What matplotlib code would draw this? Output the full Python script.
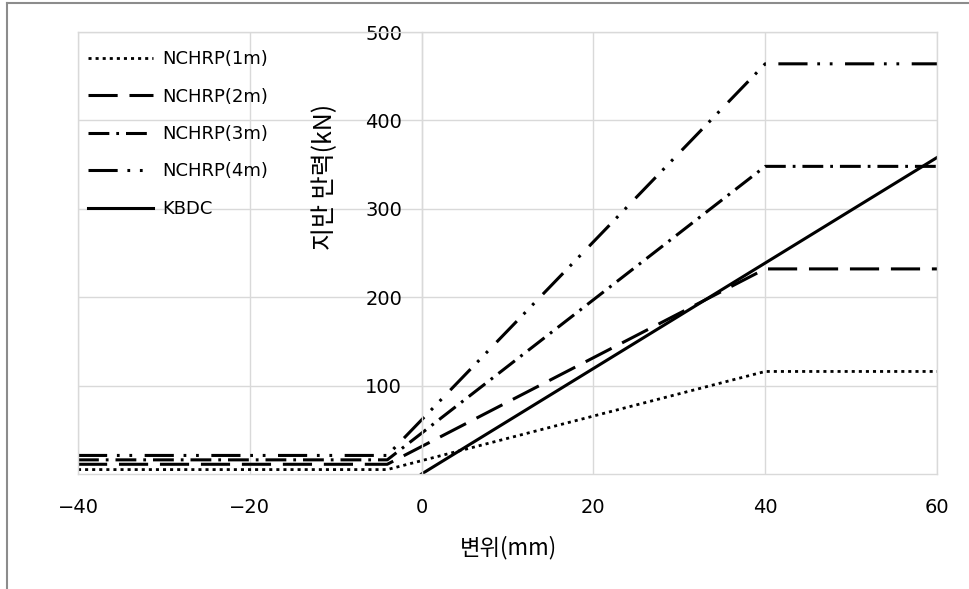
import matplotlib.pyplot as plt
from matplotlib.lines import Line2D

plt.rcParams['font.family'] = ['DejaVu Sans', 'Noto Sans CJK KR']
plt.rcParams['lines.scale_dashes'] = False

# ----------------------------------------------------------------------
# Data
# ----------------------------------------------------------------------
nchrp_x = [-40, -4, 40, 60]
nchrp_1m = [5, 5, 116, 116]
nchrp_2m = [11, 11, 232, 232]
nchrp_3m = [16, 16, 348, 348]
nchrp_4m = [21, 21, 464, 464]

kbdc_x = [0, 60]
kbdc_y = [0, 358]

labels = ["NCHRP(1m)", "NCHRP(2m)", "NCHRP(3m)", "NCHRP(4m)", "KBDC"]

# ----------------------------------------------------------------------
# Plot
# ----------------------------------------------------------------------
W, H = 969, 589
fig = plt.figure(figsize=(W / 100, H / 100), dpi=100)
ax = fig.add_axes([78 / W, 1 - 474 / H, (937 - 78) / W, (474 - 32) / H])

grid_c = "#d9d9d9"
lw = 2.2

ax.plot(nchrp_x, nchrp_1m, color="black", lw=2.0,
        linestyle=(0, (2.2, 2.9)), dash_capstyle="butt", label=labels[0])
ax.plot(nchrp_x, nchrp_2m, color="black", lw=lw,
        linestyle=(0, (21, 8.5)), label=labels[1])
ax.plot(nchrp_x, nchrp_3m, color="black", lw=lw,
        linestyle=(0, (15, 5, 2, 5)), label=labels[2])
ax.plot(nchrp_x, nchrp_4m, color="black", lw=lw,
        linestyle=(0, (21, 7, 2, 7, 2, 9)), label=labels[3])
ax.plot(kbdc_x, kbdc_y, color="black", lw=lw, linestyle="-", label=labels[4])

ax.set_xlim(-40, 60)
ax.set_ylim(0, 500)
ax.set_xticks([-40, -20, 0, 20, 40, 60])
ax.set_yticks([100, 200, 300, 400, 500])

ax.grid(True, color=grid_c, lw=1.0)
ax.axvline(-40, color=grid_c, lw=1.0, clip_on=False)
for s in ["top", "bottom", "right", "left"]:
    ax.spines[s].set_color(grid_c)
    ax.spines[s].set_linewidth(1.0)
ax.spines["left"].set_position(("data", 0))

ax.tick_params(axis="both", length=0, labelsize=14)
ax.tick_params(axis="y", pad=14)
ax.tick_params(axis="x", pad=17)

ax.text(0.2875, 0.672, "지반 반력(kN)", transform=ax.transAxes,
        rotation=90, ha="center", va="center", fontsize=18,
        family=["Noto Sans CJK KR", "DejaVu Sans"])
fig.text(508 / W, 1 - 548 / H, "변위(mm)", ha="center", va="center",
         fontsize=16, family=["Noto Sans CJK KR", "DejaVu Sans"])

ax.legend(loc="upper left", bbox_to_anchor=(88 / W, 1 - 50 / H),
          bbox_transform=fig.transFigure, frameon=False, fontsize=13,
          borderpad=0, borderaxespad=0, handlelength=3.6,
          handletextpad=0.5, labelspacing=1.08)

# outer frame (top and left edge of the picture)
frame_c = "#8c8c8c"
fig.add_artist(Line2D([7 / W, 1], [1 - 3 / H, 1 - 3 / H], color=frame_c, lw=1.5))
fig.add_artist(Line2D([7 / W, 7 / W], [0, 1 - 3 / H], color=frame_c, lw=1.5))

fig.savefig("out.png", dpi=100)
